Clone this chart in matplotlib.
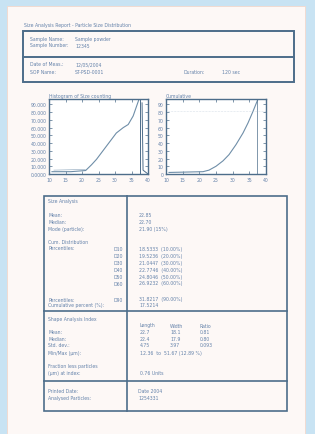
import numpy as np
import matplotlib
matplotlib.use("Agg")
import matplotlib.pyplot as plt
from matplotlib.patches import Rectangle

# DATA ########################################################################

report_title = "Size Analysis Report - Particle Size Distribution"

header_labels_1 = ["Sample Name:", "Sample Number:"]
header_values_1 = ["Sample powder", "12345"]
header_labels_2 = ["Date of Meas.:", "SOP Name:"]
header_values_2 = ["12/05/2004", "ST-PSD-0001"]
duration_label = "Duration:"
duration_value = "120 sec"

hist_title = "Histogram of Size counting"
cum_title = "Cumulative"

x_ticks = [0, 10, 20, 30, 40, 50, 60]
x_tick_labels = ["10", "15", "20", "25", "30", "35", "40"]

hist_y_ticks = [0, 10, 20, 30, 40, 50, 60, 70, 80, 90]
hist_y_labels = ["0.0000", "10.000", "20.000", "30.000", "40.000",
                 "50.000", "60.000", "70.000", "80.000", "90.000"]
cum_y_ticks = [0, 10, 20, 30, 40, 50, 60, 70, 80, 90]
cum_y_labels = ["0", "10", "20", "30", "40", "50", "60", "70", "80", "90"]

# histogram curve (x in axis units 0..60, y in 0..97)
hist_x = [1.8, 13.2, 22.2, 25.8, 28.8, 34.8, 40.8, 45.0, 48.0, 51.0, 52.8, 54.6]
hist_y = [3, 3, 4.5, 12, 19, 36, 53, 60, 64, 75, 86, 97]
hist_cut_x = [56.4, 57.0, 60.0]
hist_cut_y = [92, 5, 0]
hist_base_x = [3.0, 22.0]
hist_base_y = [5, 6]
hist_vline = 55.2

# cumulative curve
cum_x = [1.8, 22.2, 25.8, 30.0, 34.2, 37.8, 42.0, 46.2, 49.2, 52.2, 55.2]
cum_y = [2, 3, 5, 10, 17, 25, 38, 53, 66, 81, 97]
cum_vline = 54.6
cum_grid_y = 82

# results table
size_header = "Size Analysis"
size_labels = ["Mean:", "Median:", "Mode (particle):"]
size_values = ["22.85", "22.70", "21.90 (15%)"]
cum_header = ["Cum. Distribution", "Percentiles:"]
pct_labels = ["D10", "D20", "D30", "D40", "D50", "D60"]
pct_values = ["18.5333  (10.00%)", "19.5236  (20.00%)", "21.0447  (30.00%)",
              "22.7746  (40.00%)", "24.8046  (50.00%)", "26.9232  (60.00%)"]
pct_last_labels = ["Percentiles:", "Cumulative percent (%):"]
pct_last_tag = "D90"
pct_last_values = ["31.8217  (90.00%)", "17.5214"]

shape_header = "Shape Analysis Index"
shape_cols = ["Length", "Width", "Ratio"]
shape_rows = ["Mean:", "Median:", "Std. dev.:"]
shape_vals = [["22.7", "18.1", "0.81"], ["22.4", "17.9", "0.80"], ["4.75", "3.97", "0.093"]]
shape_range_label = "Min/Max (µm):"
shape_range_value = "12.36  to  51.67 (12.89 %)"
shape_extra_labels = ["Fraction less particles", "(µm) at index:"]
shape_extra_value = "0.76 Units"

footer_labels = ["Printed Date:", "Analysed Particles:"]
footer_values = ["Date 2004", "1254331"]

# STYLE #######################################################################

W, H = 315, 435
bg_col = "#c8e3f3"
page_col = "#fdf8f6"
line_col = "#4d6d8a"
text_col = "#6482aa"
fs = 3.3


def fx(x):
    return x / W


def fy(y):
    return 1 - y / H


def txt(x, y, s, **kw):
    fig.text(fx(x), fy(y), s, fontsize=fs, color=text_col, va="center", ha="left", **kw)


def box(x0, y0, x1, y1, lw=1.2):
    fig.add_artist(Rectangle((fx(x0), fy(y1)), fx(x1) - fx(x0), fy(y0) - fy(y1),
                             transform=fig.transFigure, fill=False,
                             edgecolor=line_col, linewidth=lw))


def hline(x0, x1, y, lw=1.2):
    fig.add_artist(plt.Line2D([fx(x0), fx(x1)], [fy(y), fy(y)], transform=fig.transFigure,
                              color=line_col, linewidth=lw))


def vline(x, y0, y1, lw=1.2):
    fig.add_artist(plt.Line2D([fx(x), fx(x)], [fy(y0), fy(y1)], transform=fig.transFigure,
                              color=line_col, linewidth=lw))


fig = plt.figure(figsize=(W / 100, H / 100), dpi=100, facecolor=bg_col)

# page (kept behind the axes)
fig.add_artist(Rectangle((fx(7), 0), fx(305) - fx(7), fy(7), transform=fig.transFigure,
                         facecolor=page_col, edgecolor="#f3d8cc", linewidth=0.6,
                         zorder=-10))

# title + header box
txt(24, 25, report_title)
box(23, 32, 294, 83, lw=1.4)
hline(23, 294, 58, lw=1.4)
for i, (lab, val) in enumerate(zip(header_labels_1, header_values_1)):
    txt(30, 39 + 7 * i, lab)
    txt(75, 39 + 7 * i, val)
for i, (lab, val) in enumerate(zip(header_labels_2, header_values_2)):
    txt(30, 65 + 7 * i, lab)
    txt(75, 65 + 7 * i, val)
txt(183, 72, duration_label)
txt(222, 72, duration_value)

# PLOTS #######################################################################


def style_axes(ax, yticks, ylabels):
    ax.set_xlim(0, 60)
    ax.set_ylim(0, 97)
    ax.set_facecolor("white")
    for sp in ax.spines.values():
        sp.set_color(line_col)
        sp.set_linewidth(1.0)
    ax.set_xticks(x_ticks)
    ax.set_xticklabels(x_tick_labels)
    ax.set_yticks(yticks)
    ax.set_yticklabels(ylabels)
    ax.tick_params(direction="in", length=2, width=0.5, color=line_col,
                   labelsize=fs, labelcolor=text_col, pad=2,
                   top=True, right=True)


ax1 = fig.add_axes([fx(49), fy(175), fx(148) - fx(49), fy(100) - fy(175)])
style_axes(ax1, hist_y_ticks, hist_y_labels)
ax1.plot(hist_x, hist_y, color="#6f8ea8", lw=0.8)
ax1.plot(hist_base_x, hist_base_y, color="#9fb4c6", lw=0.5)
ax1.axvline(hist_vline, color=line_col, lw=0.7)
ax1.plot(hist_cut_x, hist_cut_y, color=line_col, lw=0.7)
ax1.text(0, 98, hist_title, fontsize=fs, color=text_col, va="bottom")

ax2 = fig.add_axes([fx(166), fy(175), fx(266) - fx(166), fy(100) - fy(175)])
style_axes(ax2, cum_y_ticks, cum_y_labels)
ax2.plot(cum_x, cum_y, color="#6f8ea8", lw=0.8)
ax2.axvline(cum_vline, color=line_col, lw=0.5)
ax2.axhline(cum_grid_y, color="#b8c8d6", lw=0.4, ls=":")
ax2.text(0, 98, cum_title, fontsize=fs, color=text_col, va="bottom")

# RESULTS TABLE ###############################################################

box(44, 197, 287, 412, lw=1.2)
vline(127, 197, 412)
hline(44, 287, 312)
hline(44, 287, 382)

txt(48, 202, size_header)
for i, (lab, val) in enumerate(zip(size_labels, size_values)):
    txt(48, 216 + 6.7 * i, lab)
    txt(139, 216 + 6.7 * i, val)
txt(48, 243, cum_header[0])
txt(48, 249, cum_header[1])
for i, (lab, val) in enumerate(zip(pct_labels, pct_values)):
    txt(114, 250 + 6.8 * i, lab)
    txt(139, 250 + 6.8 * i, val)
txt(48, 300, pct_last_labels[0])
txt(114, 300, pct_last_tag)
txt(139, 300, pct_last_values[0])
txt(48, 306, pct_last_labels[1])
txt(139, 306, pct_last_values[1])

txt(48, 320, shape_header)
for j, col in enumerate(shape_cols):
    txt(140 + 30 * j, 326, col)
for i, lab in enumerate(shape_rows):
    txt(48, 333 + 6.5 * i, lab)
    for j in range(3):
        txt(140 + 30 * j, 333 + 6.5 * i, shape_vals[i][j])
txt(48, 353, shape_range_label)
txt(140, 353, shape_range_value)
txt(48, 367, shape_extra_labels[0])
txt(48, 374, shape_extra_labels[1])
txt(140, 374, shape_extra_value)

for i, (lab, val) in enumerate(zip(footer_labels, footer_values)):
    txt(48, 392 + 6.5 * i, lab)
    txt(138, 392 + 6.5 * i, val)

plt.savefig("out.png", dpi=100, facecolor=bg_col)
